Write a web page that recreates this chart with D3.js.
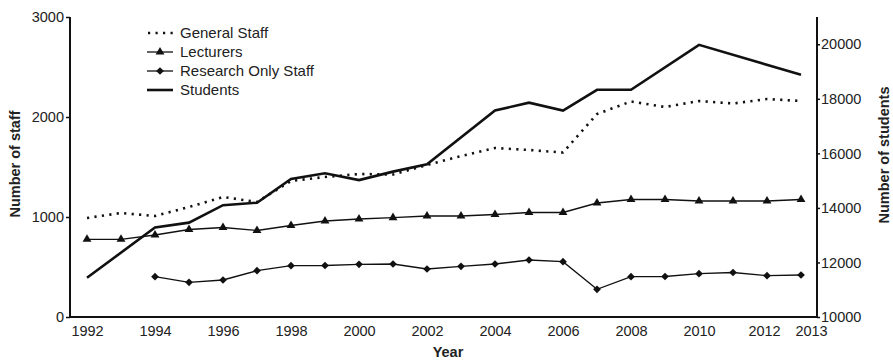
<!DOCTYPE html>
<html>
<head>
<meta charset="utf-8">
<script src="https://cdn.jsdelivr.net/npm/d3@7/dist/d3.min.js"></script>
<style>
  html, body { margin: 0; padding: 0; background: #fff; }
  svg { display: block; font-family: "Liberation Sans", Arial, Helvetica, sans-serif; }
</style>
</head>
<body>
<svg id="chart" width="893" height="364"></svg>
<script>
// Staff numbers (left axis) by year
const years = [1992, 1993, 1994, 1995, 1996, 1997, 1998, 1999, 2000, 2001, 2002,
               2003, 2004, 2005, 2006, 2007, 2008, 2009, 2010, 2011, 2012, 2013];
const generalStaff = [990, 1040, 1010, 1100, 1200, 1150, 1360, 1400, 1430, 1425, 1520,
                      1610, 1690, 1670, 1645, 2030, 2155, 2100, 2160, 2135, 2180, 2160];
const lecturers = [777, 777, 820, 875, 895, 865, 915, 960, 980, 993, 1010,
                   1010, 1025, 1045, 1045, 1140, 1175, 1175, 1160, 1160, 1160, 1175];
const researchYears = [1994, 1995, 1996, 1997, 1998, 1999, 2000, 2001, 2002, 2003,
                       2004, 2005, 2006, 2007, 2008, 2009, 2010, 2011, 2012, 2013];
const researchOnly = [403, 347, 370, 463, 513, 515, 527, 530, 480, 507,
                      530, 570, 553, 277, 403, 405, 433, 445, 413, 420];

// Student numbers (right axis)
const studentYears = [1992, 1994, 1995, 1996, 1997, 1998, 1999, 2000, 2001, 2002,
                      2004, 2005, 2006, 2007, 2008, 2010, 2013];
const students = [11440, 13280, 13460, 14100, 14190, 15060, 15270, 15020, 15330, 15600,
                  17570, 17860, 17570, 18330, 18330, 19980, 18880];

// Axis ticks and labels
const yearTicks = [1992, 1994, 1996, 1998, 2000, 2002, 2004, 2006, 2008, 2010, 2012, 2013];
const staffTicks = [0, 1000, 2000, 3000];
const studentTicks = [10000, 12000, 14000, 16000, 18000, 20000];
const legendLabels = ["General Staff", "Lecturers", "Research Only Staff", "Students"];

const svg = d3.select("#chart");
const plotLeft = 70, plotRight = 817, plotTop = 17, plotBottom = 317;

const x = d3.scaleLinear().domain([1991.5, 2013.47]).range([plotLeft, plotRight]);
const yStaff = d3.scaleLinear().domain([0, 3000]).range([plotBottom, plotTop]);
const yStud = d3.scaleLinear().domain([10000, 21000]).range([plotBottom, plotTop]);

// Axes
const axisFont = "14.5px";

const gLeft = svg.append("g").attr("transform", `translate(${plotLeft},0)`)
  .call(d3.axisLeft(yStaff).tickValues(staffTicks).tickSize(4).tickPadding(2).tickFormat(d3.format("d")));
const gRight = svg.append("g").attr("transform", `translate(${plotRight},0)`)
  .call(d3.axisRight(yStud).tickValues(studentTicks).tickSize(3).tickPadding(1).tickFormat(d3.format("d")));
const gBottom = svg.append("g").attr("transform", `translate(0,${plotBottom})`)
  .call(d3.axisBottom(x).tickValues(yearTicks).tickSize(0).tickPadding(9).tickFormat(d3.format("d")));

gLeft.select(".domain").attr("d", `M0,${plotTop}V${plotBottom}`);
gRight.select(".domain").attr("d", `M0,${plotTop}V${plotBottom}`);
gBottom.select(".domain").attr("d", `M${plotLeft},0H${plotRight}`);

[gLeft, gRight, gBottom].forEach(g => {
  g.select(".domain").attr("stroke", "#111").attr("stroke-width", 2);
  g.selectAll(".tick line").attr("stroke", "#111").attr("stroke-width", 1.5);
  g.selectAll(".tick text").attr("fill", "#222").style("font-size", axisFont)
    .style("font-family", "'Liberation Sans', Arial, sans-serif");
});
// keep the last two year labels apart
gBottom.selectAll(".tick text").attr("dx", d => d === 2012 ? -3 : d === 2013 ? 10 : 0);

// Axis titles
svg.append("text")
  .attr("transform", `translate(20,164) rotate(-90)`)
  .attr("text-anchor", "middle")
  .style("font-size", "14.5px").style("font-weight", "bold").attr("fill", "#222")
  .text("Number of staff");
svg.append("text")
  .attr("transform", `translate(889,155) rotate(-90)`)
  .attr("text-anchor", "middle")
  .style("font-size", "14.5px").style("font-weight", "bold").attr("fill", "#222")
  .text("Number of students");
svg.append("text")
  .attr("x", 448).attr("y", 357)
  .attr("text-anchor", "middle")
  .style("font-size", "14.5px").style("font-weight", "bold").attr("fill", "#222")
  .text("Year");

const plot = svg.append("g");

// General staff: dotted line
plot.append("path")
  .datum(years.map((yr, i) => [yr, generalStaff[i]]))
  .attr("fill", "none").attr("stroke", "#111").attr("stroke-width", 2.6)
  .attr("stroke-dasharray", "2.2,5.3")
  .attr("d", d3.line().x(d => x(d[0])).y(d => yStaff(d[1])));

// Lecturers: thin line with triangles
const lecData = years.map((yr, i) => [yr, lecturers[i]]);
plot.append("path")
  .datum(lecData)
  .attr("fill", "none").attr("stroke", "#111").attr("stroke-width", 1.3)
  .attr("d", d3.line().x(d => x(d[0])).y(d => yStaff(d[1])));
plot.selectAll(".tri").data(lecData).join("path")
  .attr("class", "tri")
  .attr("transform", d => `translate(${x(d[0])},${yStaff(d[1])})`)
  .attr("d", d3.symbol(d3.symbolTriangle, 34)())
  .attr("fill", "#111");

// Research only staff: thin line with diamonds
const resData = researchYears.map((yr, i) => [yr, researchOnly[i]]);
plot.append("path")
  .datum(resData)
  .attr("fill", "none").attr("stroke", "#111").attr("stroke-width", 1.3)
  .attr("d", d3.line().x(d => x(d[0])).y(d => yStaff(d[1])));
plot.selectAll(".dia").data(resData).join("path")
  .attr("class", "dia")
  .attr("transform", d => `translate(${x(d[0])},${yStaff(d[1])}) rotate(45)`)
  .attr("d", d3.symbol(d3.symbolSquare, 30)())
  .attr("fill", "#111");

// Students: thick solid line on the right axis
plot.append("path")
  .datum(studentYears.map((yr, i) => [yr, students[i]]))
  .attr("fill", "none").attr("stroke", "#111").attr("stroke-width", 2.6)
  .attr("stroke-linejoin", "miter")
  .attr("d", d3.line().x(d => x(d[0])).y(d => yStud(d[1])));

// Legend
const legend = svg.append("g").attr("transform", "translate(147,33)");
const rowH = 19;
legendLabels.forEach((lab, i) => {
  const g = legend.append("g").attr("transform", `translate(0,${i * rowH})`);
  const line = g.append("line").attr("x1", 0).attr("x2", 26).attr("y1", 0).attr("y2", 0)
    .attr("stroke", "#111");
  if (i === 0) line.attr("stroke-width", 2.4).attr("stroke-dasharray", "2.2,5.3").attr("x1", 1);
  else if (i === 3) line.attr("stroke-width", 2.6);
  else line.attr("stroke-width", 1.3);
  if (i === 1) g.append("path").attr("transform", "translate(13,0)")
    .attr("d", d3.symbol(d3.symbolTriangle, 34)()).attr("fill", "#111");
  if (i === 2) g.append("path").attr("transform", "translate(13,0) rotate(45)")
    .attr("d", d3.symbol(d3.symbolSquare, 30)()).attr("fill", "#111");
  g.append("text").attr("x", 33).attr("y", 0).attr("dy", "0.35em")
    .style("font-size", "15px").attr("fill", "#222").text(lab);
});
</script>
</body>
</html>
